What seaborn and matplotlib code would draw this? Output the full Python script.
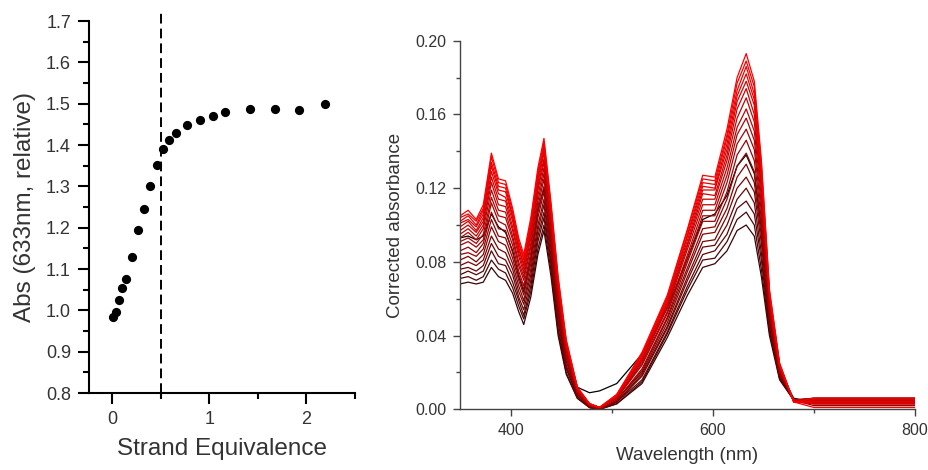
import numpy as np
import pandas as pd
import matplotlib
matplotlib.use("Agg")
import matplotlib.pyplot as plt
from matplotlib.ticker import MultipleLocator, FormatStrFormatter
import seaborn as sns

# ---------------- data: left panel ----------------
strand_equiv = [0.003, 0.038, 0.072, 0.103, 0.137, 0.198, 0.263, 0.328, 0.39, 0.458,
                0.52, 0.585, 0.653, 0.772, 0.906, 1.033, 1.159, 1.419, 1.679, 1.928, 2.188]
abs_633_rel = [0.983, 0.997, 1.026, 1.053, 1.077, 1.128, 1.195, 1.244, 1.302, 1.352,
               1.390, 1.412, 1.428, 1.448, 1.460, 1.471, 1.480, 1.486, 1.486, 1.485, 1.500]
equivalence_point = 0.5

# ---------------- data: right panel (spectra) ----------------
wavelength = [350, 358, 366, 373, 381, 388, 395, 402, 408, 413, 420, 427, 433, 440, 447, 455,
              466, 478, 488, 505, 530, 555, 575, 590, 602, 614, 624, 633, 641, 648, 656, 666,
              680, 700, 800]

spec_black = [.093, .094, .092, .094, .106, .099, .096, .086, .072, .064, .082, .108, .120, .090, .055, .030,
              .012, .009, .010, .014, .030, .055, .082, .103, .106, .116, .132, .138, .128, .098, .050, .020,
              .006, .004, .004]
spec_00 = [.068, .069, .068, .069, .077, .072, .070, .063, .053, .046, .061, .084, .097, .072, .040, .019,
           .006, .001, .000, .003, .014, .039, .062, .077, .079, .086, .097, .100, .094, .072, .040, .016,
           .005, .004, .004]
spec_01 = [.071, .072, .070, .072, .081, .076, .074, .066, .056, .049, .064, .087, .100, .075, .042, .020,
           .006, .001, .000, .003, .015, .041, .065, .081, .082, .091, .103, .107, .100, .076, .042, .017,
           .005, .005, .005]
spec_02 = [.073, .075, .073, .075, .086, .079, .078, .069, .059, .051, .067, .091, .104, .078, .044, .022,
           .007, .001, .000, .004, .016, .042, .067, .084, .086, .095, .109, .113, .106, .081, .044, .017,
           .005, .003, .003]
spec_03 = [.076, .077, .075, .078, .090, .083, .081, .073, .061, .054, .070, .094, .107, .080, .047, .023,
           .007, .001, .000, .004, .018, .044, .070, .088, .089, .100, .114, .120, .112, .085, .045, .018,
           .005, .006, .006]
spec_04 = [.078, .080, .078, .081, .094, .087, .085, .076, .064, .057, .073, .097, .111, .083, .049, .024,
           .008, .002, .000, .004, .019, .045, .072, .091, .092, .105, .120, .126, .118, .090, .047, .019,
           .005, .004, .004]
spec_05 = [.081, .083, .080, .084, .099, .091, .089, .079, .067, .059, .076, .100, .114, .086, .051, .026,
           .008, .002, .000, .005, .020, .047, .075, .095, .096, .109, .126, .133, .123, .094, .049, .019,
           .005, .005, .005]
spec_06 = [.084, .085, .083, .087, .103, .094, .093, .082, .070, .062, .079, .104, .118, .089, .053, .027,
           .009, .002, .000, .005, .021, .049, .077, .098, .099, .114, .132, .139, .129, .099, .051, .020,
           .005, .002, .002]
spec_07 = [.086, .088, .085, .090, .107, .098, .097, .085, .073, .065, .082, .107, .121, .092, .056, .028,
           .009, .002, .000, .005, .022, .050, .080, .102, .102, .118, .138, .146, .135, .103, .052, .020,
           .005, .006, .006]
spec_08 = [.089, .091, .088, .092, .112, .102, .100, .089, .075, .067, .085, .110, .125, .094, .058, .030,
           .009, .002, .001, .006, .024, .052, .082, .105, .105, .123, .144, .152, .141, .107, .054, .021,
           .005, .004, .004]
spec_09 = [.091, .093, .090, .095, .115, .105, .104, .092, .078, .070, .088, .113, .128, .097, .060, .031,
           .010, .002, .001, .006, .025, .053, .084, .108, .108, .127, .149, .158, .146, .111, .056, .022,
           .005, .005, .005]
spec_10 = [.093, .096, .092, .098, .119, .108, .107, .094, .080, .072, .090, .116, .131, .099, .062, .032,
           .010, .002, .001, .006, .026, .055, .087, .111, .111, .131, .153, .163, .151, .115, .057, .022,
           .005, .003, .003]
spec_11 = [.095, .098, .094, .100, .123, .111, .110, .097, .083, .074, .093, .119, .134, .102, .064, .033,
           .010, .002, .001, .007, .027, .056, .089, .114, .114, .135, .158, .169, .156, .119, .059, .023,
           .005, .006, .006]
spec_12 = [.097, .100, .096, .102, .126, .114, .113, .099, .085, .076, .095, .121, .136, .104, .065, .034,
           .011, .003, .001, .007, .027, .057, .090, .117, .116, .138, .163, .174, .160, .122, .060, .023,
           .005, .004, .004]
spec_13 = [.099, .102, .097, .104, .129, .117, .115, .102, .087, .078, .097, .123, .139, .106, .067, .035,
           .011, .003, .001, .007, .028, .058, .092, .119, .119, .141, .167, .178, .165, .125, .061, .024,
           .004, .005, .005]
spec_14 = [.101, .103, .099, .106, .132, .119, .118, .104, .088, .079, .099, .125, .141, .107, .068, .036,
           .011, .003, .001, .007, .029, .059, .094, .121, .120, .144, .170, .182, .168, .127, .062, .024,
           .004, .003, .003]
spec_15 = [.102, .105, .100, .108, .134, .121, .120, .105, .090, .081, .101, .127, .143, .109, .069, .036,
           .012, .003, .001, .008, .030, .060, .095, .123, .122, .147, .173, .186, .171, .130, .063, .024,
           .004, .006, .006]
spec_16 = [.104, .106, .102, .109, .137, .123, .122, .107, .091, .082, .102, .129, .145, .110, .071, .037,
           .012, .003, .001, .008, .030, .061, .097, .125, .124, .149, .177, .189, .175, .133, .064, .025,
           .004, .004, .004]
spec_17 = [.105, .108, .103, .111, .139, .125, .124, .109, .093, .084, .104, .131, .147, .112, .072, .038,
           .012, .003, .001, .008, .031, .062, .098, .127, .126, .152, .180, .193, .178, .135, .065, .025,
           .004, .001, .001]

spectra = [spec_black, spec_00, spec_01, spec_02, spec_03, spec_04, spec_05, spec_06, spec_07, spec_08,
           spec_09, spec_10, spec_11, spec_12, spec_13, spec_14, spec_15, spec_16, spec_17]
spectrum_names = ["black"] + ["s%02d" % i for i in range(18)]

left_xticks = [0, 1, 2]
left_yticks = [0.8, 0.9, 1.0, 1.1, 1.2, 1.3, 1.4, 1.5, 1.6, 1.7]
right_xticks = [400, 600, 800]
right_yticks = [0.00, 0.04, 0.08, 0.12, 0.16, 0.20]

# ---------------- style ----------------
sns.set_style("ticks")
plt.rcParams["font.family"] = ["Liberation Sans", "DejaVu Sans"]
text_col = "#333333"

fig = plt.figure(figsize=(9.29, 4.70), dpi=100)
ax1 = fig.add_axes([0.0958, 0.1638, 0.2863, 0.7915])
ax2 = fig.add_axes([0.4952, 0.1291, 0.4898, 0.7843])

# ---------------- left panel ----------------
sns.scatterplot(x=strand_equiv, y=abs_633_rel, ax=ax1, color="black", s=44,
                linewidth=0, zorder=3, legend=False)
ax1.axvline(equivalence_point, ymin=0, ymax=1.024, color="black", lw=1.4,
            dashes=(5.0, 2.6), clip_on=False, zorder=2)
ax1.set_xlim(-0.24, 2.5)
ax1.set_ylim(0.8, 1.7)
ax1.set_xticks(left_xticks)
ax1.set_yticks(left_yticks)
ax1.xaxis.set_minor_locator(MultipleLocator(0.5))
ax1.yaxis.set_minor_locator(MultipleLocator(0.05))
ax1.yaxis.set_major_formatter(FormatStrFormatter("%.1f"))
for s in ["top", "right"]:
    ax1.spines[s].set_visible(False)
for s in ["left", "bottom"]:
    ax1.spines[s].set_linewidth(1.5)
    ax1.spines[s].set_color("black")
ax1.tick_params(which="major", direction="out", length=8, width=1.5, color="black",
                labelsize=13, labelcolor=text_col, pad=5)
ax1.tick_params(which="minor", direction="out", length=4, width=1.5, color="black")
ax1.set_xlabel("Strand Equivalence", fontsize=17.5, color=text_col, labelpad=7)
ax1.set_ylabel("Abs (633nm, relative)", fontsize=17.5, color=text_col, labelpad=7)

# ---------------- right panel ----------------
rows = []
for name, vals in zip(spectrum_names, spectra):
    for w, v in zip(wavelength, vals):
        rows.append((name, w, v))
df = pd.DataFrame(rows, columns=["spectrum", "wavelength", "absorbance"])

n_grad = 18
palette = {"black": (0.0, 0.0, 0.0)}
for i in range(n_grad):
    t = (i / (n_grad - 1)) ** 0.8
    palette["s%02d" % i] = (0.22 + 0.78 * t, 0.02 * (1 - t), 0.02 * (1 - t))

sns.lineplot(data=df, x="wavelength", y="absorbance", hue="spectrum",
             hue_order=spectrum_names, palette=palette, estimator=None, sort=False,
             lw=0.9, legend=False, ax=ax2)
ax2.set_xlim(350, 800)
ax2.set_ylim(0, 0.20)
ax2.set_xticks(right_xticks)
ax2.set_yticks(right_yticks)
ax2.xaxis.set_minor_locator(MultipleLocator(100))
ax2.yaxis.set_minor_locator(MultipleLocator(0.02))
ax2.yaxis.set_major_formatter(FormatStrFormatter("%.2f"))
for s in ["top", "right"]:
    ax2.spines[s].set_visible(False)
for s in ["left", "bottom"]:
    ax2.spines[s].set_linewidth(1.0)
    ax2.spines[s].set_color("#444444")
ax2.tick_params(which="major", direction="out", length=5, width=1.0, color="#444444",
                labelsize=11.5, labelcolor=text_col, pad=5)
ax2.tick_params(which="minor", direction="out", length=3, width=1.0, color="#444444")
ax2.set_xlabel("Wavelength (nm)", fontsize=13.5, color=text_col, labelpad=6)
ax2.set_ylabel("Corrected absorbance", fontsize=13.5, color=text_col, labelpad=8)

fig.savefig("out.png", dpi=100)
